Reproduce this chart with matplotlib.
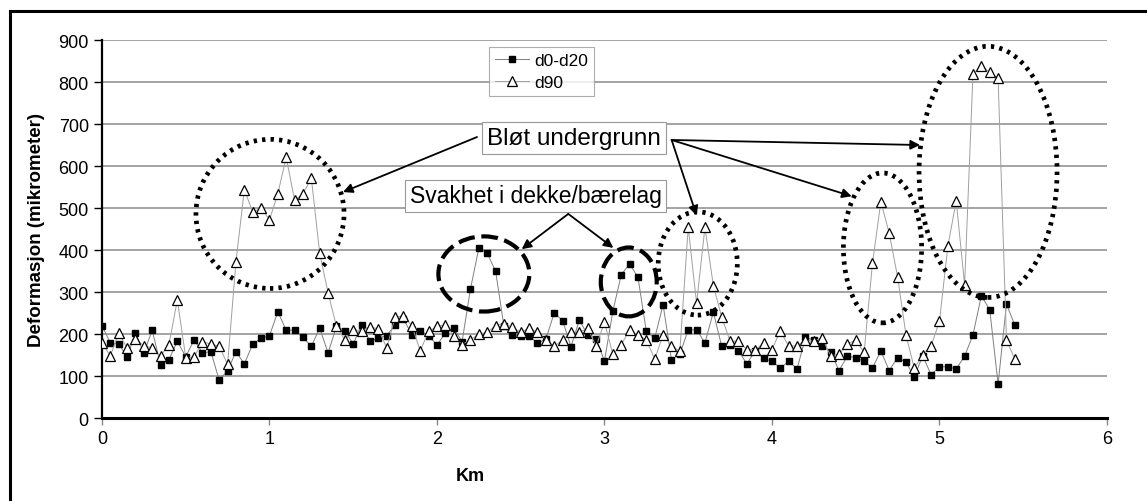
import matplotlib
matplotlib.use('Agg')
import matplotlib.pyplot as plt
from matplotlib.patches import Ellipse
from matplotlib.lines import Line2D

plt.rcParams['font.family'] = ['Liberation Sans', 'DejaVu Sans']

# chainage (km), one point every 50 m
km = [0.00, 0.05, 0.10, 0.15, 0.20, 0.25, 0.30, 0.35, 0.40, 0.45,
      0.50, 0.55, 0.60, 0.65, 0.70, 0.75, 0.80, 0.85, 0.90, 0.95,
      1.00, 1.05, 1.10, 1.15, 1.20, 1.25, 1.30, 1.35, 1.40, 1.45,
      1.50, 1.55, 1.60, 1.65, 1.70, 1.75, 1.80, 1.85, 1.90, 1.95,
      2.00, 2.05, 2.10, 2.15, 2.20, 2.25, 2.30, 2.35, 2.40, 2.45,
      2.50, 2.55, 2.60, 2.65, 2.70, 2.75, 2.80, 2.85, 2.90, 2.95,
      3.00, 3.05, 3.10, 3.15, 3.20, 3.25, 3.30, 3.35, 3.40, 3.45,
      3.50, 3.55, 3.60, 3.65, 3.70, 3.75, 3.80, 3.85, 3.90, 3.95,
      4.00, 4.05, 4.10, 4.15, 4.20, 4.25, 4.30, 4.35, 4.40, 4.45,
      4.50, 4.55, 4.60, 4.65, 4.70, 4.75, 4.80, 4.85, 4.90, 4.95,
      5.00, 5.05, 5.10, 5.15, 5.20, 5.25, 5.30, 5.35, 5.40, 5.45]

d0_d20 = [220, 179, 176, 146, 202, 155, 209, 126, 139, 183,
          146, 186, 155, 158, 90, 113, 158, 129, 176, 190,
          196, 253, 209, 209, 192, 171, 214, 155, 218, 208,
          176, 222, 183, 190, 196, 222, 236, 198, 208, 196,
          174, 202, 214, 182, 307, 405, 392, 350, 218, 198,
          196, 196, 178, 188, 250, 232, 170, 233, 198, 188,
          136, 254, 341, 367, 335, 206, 190, 270, 139, 152,
          210, 210, 179, 252, 171, 173, 160, 129, 160, 142,
          135, 119, 135, 117, 192, 186, 171, 158, 113, 147,
          144, 135, 119, 160, 113, 144, 133, 98, 148, 103,
          122, 122, 117, 147, 198, 291, 258, 81, 271, 221]

d90 = [178, 148, 202, 167, 188, 172, 167, 148, 175, 281,
       144, 145, 182, 176, 171, 128, 372, 544, 490, 500,
       472, 534, 621, 518, 534, 571, 392, 298, 218, 186,
       210, 208, 217, 212, 167, 240, 244, 220, 160, 206,
       218, 222, 196, 175, 186, 200, 204, 220, 225, 216,
       204, 214, 204, 186, 171, 186, 204, 204, 214, 171,
       228, 152, 174, 210, 198, 186, 140, 198, 172, 159,
       454, 273, 454, 315, 240, 183, 183, 163, 163, 178,
       163, 208, 171, 172, 186, 183, 191, 148, 152, 176,
       186, 156, 368, 515, 440, 336, 198, 118, 151, 172,
       230, 409, 517, 317, 819, 839, 823, 809, 186, 140]

xTicks = [0, 1, 2, 3, 4, 5, 6]
yTicks = [0, 100, 200, 300, 400, 500, 600, 700, 800, 900]

fig = plt.figure(figsize=(11.47, 5.02), dpi=100)
ax = fig.add_axes([0.0889, 0.1653, 0.8762, 0.753])

ax.plot(km, d0_d20, color='#7f7f7f', lw=0.7, marker='s', markersize=5,
        markerfacecolor='black', markeredgecolor='black', label='d0-d20', zorder=3)
ax.plot(km, d90, color='#a0a0a0', lw=0.7, marker='^', markersize=6.5,
        markerfacecolor='white', markeredgecolor='black', markeredgewidth=0.9,
        label='d90', zorder=4)

ax.set_xlim(0, 6)
ax.set_ylim(0, 900)
ax.set_xticks(xTicks)
ax.set_yticks(yTicks)
ax.tick_params(labelsize=13, colors='black', length=6, width=1)
ax.tick_params(axis='x', colors='#888888', labelcolor='black', length=5)
ax.grid(axis='y', color='#8a8a8a', lw=1.1)
ax.set_axisbelow(True)

for side in ['top', 'right']:
    ax.spines[side].set_visible(False)
ax.spines['left'].set_linewidth(1.6)
ax.spines['bottom'].set_linewidth(2.2)

ax.set_ylabel('Deformasjon (mikrometer)', fontsize=13.5, fontweight='bold', labelpad=10)
ax.set_xlabel('Km', fontsize=13, fontweight='bold')
ax.xaxis.set_label_coords(0.367, -0.13)

leg = ax.legend(loc='upper left', bbox_to_anchor=(0.376, 1.005), fontsize=12.5,
                frameon=True, fancybox=False, handlelength=2.0, borderpad=0.35,
                labelspacing=0.4, handletextpad=0.3)
leg.get_frame().set_edgecolor('#999999')
leg.get_frame().set_linewidth(0.8)

# soft ground areas (dotted) and weak pavement (dashed)
dotted = dict(fill=False, ec='black', lw=3.4, ls=(0, (0.7, 1.1)), zorder=5)
dashed = dict(fill=False, ec='black', lw=3.0, ls=(0, (4, 1.6)), zorder=5)
ax.add_patch(Ellipse((1.003, 486), 0.884, 355, **dotted))
ax.add_patch(Ellipse((3.557, 368), 0.472, 246, **dotted))
ax.add_patch(Ellipse((4.66, 405), 0.467, 357, **dotted))
ax.add_patch(Ellipse((5.29, 586), 0.824, 598, **dotted))
ax.add_patch(Ellipse((2.28, 343), 0.543, 179, **dashed))
ax.add_patch(Ellipse((3.145, 324), 0.334, 164, **dashed))

arrow = dict(arrowstyle='-|>', color='black', lw=1.3, mutation_scale=14,
             shrinkA=0, shrinkB=0)
for end in [(1.439, 538)]:
    ax.annotate('', xy=end, xytext=(2.239, 669), arrowprops=arrow, zorder=6)
for end in [(3.550, 482), (4.476, 528), (4.884, 650)]:
    ax.annotate('', xy=end, xytext=(3.401, 662), arrowprops=arrow, zorder=6)
for end in [(2.506, 402), (3.053, 405)]:
    ax.annotate('', xy=end, xytext=(2.784, 486), arrowprops=arrow, zorder=6)

box = dict(boxstyle='square,pad=0.2', fc='white', ec='#999999', lw=0.8)
ax.text(2.818, 667, 'Bløt undergrunn', fontsize=17.5, ha='center', va='center',
        bbox=box, zorder=7)
ax.text(2.588, 529, 'Svakhet i dekke/bærelag', fontsize=16.5, ha='center', va='center',
        bbox=box, zorder=7)

# outer frame (left and top edge visible)
fig.add_artist(Line2D([0.0087, 0.0087], [0.0, 0.976], color='black', lw=2.2,
                      transform=fig.transFigure))
fig.add_artist(Line2D([0.0087, 1.0], [0.976, 0.976], color='black', lw=2.2,
                      transform=fig.transFigure))

fig.savefig('out.png', dpi=100)
